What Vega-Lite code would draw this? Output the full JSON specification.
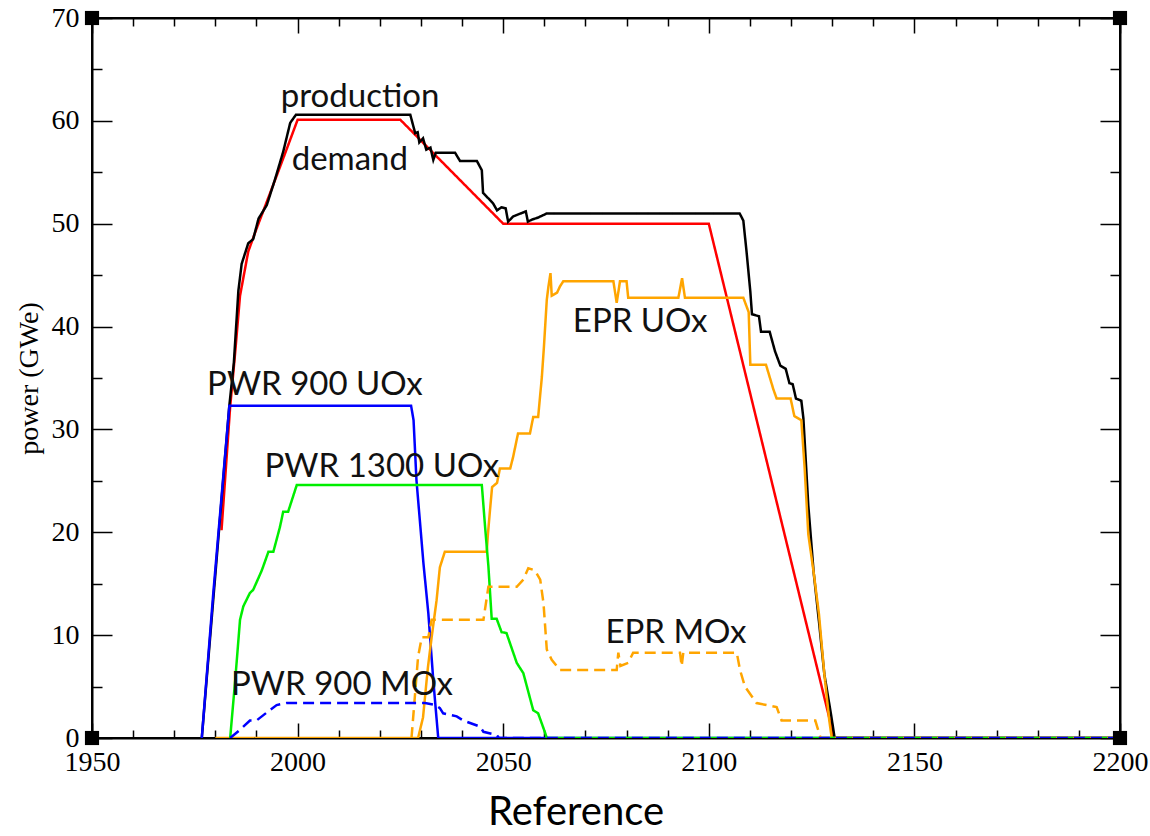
{
  "$schema": "https://vega.github.io/schema/vega-lite/v6.json",
  "autosize": {"type": "none"},
  "padding": {"left": 92, "top": 18, "right": 30, "bottom": 98},
  "width": 1028,
  "height": 720,
  "background": "white",
  "view": {"stroke": "black", "strokeWidth": 2},
  "title": {"text": "Reference", "orient": "bottom", "font": "Lato", "fontSize": 40, "fontWeight": "normal", "color": "black", "offset": 10, "dx": -30},
  "datasets": {
    "series": [
      {"series": "demand", "year": 1981.5, "value": 20.2},
      {"series": "demand", "year": 1983.6, "value": 32.2},
      {"series": "demand", "year": 1984.8, "value": 37.4},
      {"series": "demand", "year": 1986, "value": 43},
      {"series": "demand", "year": 1988, "value": 47.3},
      {"series": "demand", "year": 1990, "value": 49.5},
      {"series": "demand", "year": 1994, "value": 53.7},
      {"series": "demand", "year": 1997.3, "value": 57.2},
      {"series": "demand", "year": 2000, "value": 60.1},
      {"series": "demand", "year": 2025, "value": 60.1},
      {"series": "demand", "year": 2050, "value": 50},
      {"series": "demand", "year": 2100, "value": 50},
      {"series": "demand", "year": 2130.5, "value": 0},
      {"series": "demand", "year": 2200, "value": 0},

      {"series": "production", "year": 1976.7, "value": 0},
      {"series": "production", "year": 1983.4, "value": 32.3},
      {"series": "production", "year": 1984.5, "value": 36.5},
      {"series": "production", "year": 1985.6, "value": 43.5},
      {"series": "production", "year": 1986.4, "value": 46.1},
      {"series": "production", "year": 1988, "value": 48.1},
      {"series": "production", "year": 1989.2, "value": 48.5},
      {"series": "production", "year": 1990.5, "value": 50.5},
      {"series": "production", "year": 1992.5, "value": 51.8},
      {"series": "production", "year": 1994.5, "value": 54.3},
      {"series": "production", "year": 1996.5, "value": 57.0},
      {"series": "production", "year": 1998.2, "value": 59.8},
      {"series": "production", "year": 1999.6, "value": 60.6},
      {"series": "production", "year": 2027.4, "value": 60.6},
      {"series": "production", "year": 2028.6, "value": 58.8},
      {"series": "production", "year": 2029.2, "value": 58.9},
      {"series": "production", "year": 2029.6, "value": 57.9},
      {"series": "production", "year": 2030.5, "value": 58.3},
      {"series": "production", "year": 2031.3, "value": 57.2},
      {"series": "production", "year": 2032.3, "value": 57.4},
      {"series": "production", "year": 2033, "value": 56.2},
      {"series": "production", "year": 2033.6, "value": 56.9},
      {"series": "production", "year": 2038.3, "value": 56.9},
      {"series": "production", "year": 2039.5, "value": 56.1},
      {"series": "production", "year": 2043.6, "value": 56.1},
      {"series": "production", "year": 2044.8, "value": 55.2},
      {"series": "production", "year": 2045.1, "value": 53.0},
      {"series": "production", "year": 2046.3, "value": 52.5},
      {"series": "production", "year": 2047.5, "value": 52.0},
      {"series": "production", "year": 2048.5, "value": 51.3},
      {"series": "production", "year": 2049.6, "value": 51.6},
      {"series": "production", "year": 2050.6, "value": 51.5},
      {"series": "production", "year": 2051.2, "value": 50.2},
      {"series": "production", "year": 2052.4, "value": 50.7},
      {"series": "production", "year": 2055.5, "value": 51.2},
      {"series": "production", "year": 2056, "value": 50.2},
      {"series": "production", "year": 2057, "value": 50.4},
      {"series": "production", "year": 2058.5, "value": 50.6},
      {"series": "production", "year": 2060.6, "value": 51.0},
      {"series": "production", "year": 2107.5, "value": 51.0},
      {"series": "production", "year": 2108.4, "value": 50.3},
      {"series": "production", "year": 2109.2, "value": 47.2},
      {"series": "production", "year": 2110.1, "value": 43.4},
      {"series": "production", "year": 2110.5, "value": 41.2},
      {"series": "production", "year": 2112.2, "value": 41.0},
      {"series": "production", "year": 2112.7, "value": 39.5},
      {"series": "production", "year": 2114.8, "value": 39.5},
      {"series": "production", "year": 2116.1, "value": 37.6},
      {"series": "production", "year": 2117.4, "value": 36.2},
      {"series": "production", "year": 2118.7, "value": 35.9},
      {"series": "production", "year": 2119.6, "value": 34.5},
      {"series": "production", "year": 2120.4, "value": 34.4},
      {"series": "production", "year": 2121.2, "value": 33.0},
      {"series": "production", "year": 2122.5, "value": 32.8},
      {"series": "production", "year": 2123, "value": 31.1},
      {"series": "production", "year": 2124.2, "value": 22.6},
      {"series": "production", "year": 2125.5, "value": 16.1},
      {"series": "production", "year": 2126.8, "value": 11.3},
      {"series": "production", "year": 2128.1, "value": 6.2},
      {"series": "production", "year": 2129.8, "value": 2.1},
      {"series": "production", "year": 2130.6, "value": 0},
      {"series": "production", "year": 2200, "value": 0},

      {"series": "PWR 900 UOx", "year": 1976.7, "value": 0},
      {"series": "PWR 900 UOx", "year": 1979.5, "value": 14.1},
      {"series": "PWR 900 UOx", "year": 1983.4, "value": 32.3},
      {"series": "PWR 900 UOx", "year": 2027.6, "value": 32.3},
      {"series": "PWR 900 UOx", "year": 2028.2, "value": 30.9},
      {"series": "PWR 900 UOx", "year": 2028.9, "value": 25.1},
      {"series": "PWR 900 UOx", "year": 2030.6, "value": 17.0},
      {"series": "PWR 900 UOx", "year": 2031.8, "value": 12.1},
      {"series": "PWR 900 UOx", "year": 2033, "value": 5.6},
      {"series": "PWR 900 UOx", "year": 2034.2, "value": 0},
      {"series": "PWR 900 UOx", "year": 2200, "value": 0},

      {"series": "EPR UOx", "year": 1980, "value": 0},
      {"series": "EPR UOx", "year": 2029.3, "value": 0},
      {"series": "EPR UOx", "year": 2030.5, "value": 2.0},
      {"series": "EPR UOx", "year": 2031.7, "value": 6.9},
      {"series": "EPR UOx", "year": 2032.6, "value": 9.8},
      {"series": "EPR UOx", "year": 2033.8, "value": 13.4},
      {"series": "EPR UOx", "year": 2034.6, "value": 16.6},
      {"series": "EPR UOx", "year": 2035.8, "value": 18.1},
      {"series": "EPR UOx", "year": 2046, "value": 18.1},
      {"series": "EPR UOx", "year": 2046.3, "value": 19.9},
      {"series": "EPR UOx", "year": 2046.8, "value": 22.2},
      {"series": "EPR UOx", "year": 2047.3, "value": 24.4},
      {"series": "EPR UOx", "year": 2048.5, "value": 24.8},
      {"series": "EPR UOx", "year": 2049.2, "value": 26.2},
      {"series": "EPR UOx", "year": 2051.7, "value": 26.2},
      {"series": "EPR UOx", "year": 2052.4, "value": 27.3},
      {"series": "EPR UOx", "year": 2053.6, "value": 29.6},
      {"series": "EPR UOx", "year": 2056.5, "value": 29.6},
      {"series": "EPR UOx", "year": 2057.3, "value": 31.2},
      {"series": "EPR UOx", "year": 2058.5, "value": 31.2},
      {"series": "EPR UOx", "year": 2058.8, "value": 32.5},
      {"series": "EPR UOx", "year": 2059.4, "value": 35.1},
      {"series": "EPR UOx", "year": 2059.9, "value": 38.0},
      {"series": "EPR UOx", "year": 2060.6, "value": 42.6},
      {"series": "EPR UOx", "year": 2061, "value": 43.9},
      {"series": "EPR UOx", "year": 2061.5, "value": 45.2},
      {"series": "EPR UOx", "year": 2061.8, "value": 43.0},
      {"series": "EPR UOx", "year": 2063.1, "value": 43.3},
      {"series": "EPR UOx", "year": 2063.8, "value": 43.9},
      {"series": "EPR UOx", "year": 2064.6, "value": 44.4},
      {"series": "EPR UOx", "year": 2076.8, "value": 44.4},
      {"series": "EPR UOx", "year": 2077.6, "value": 42.3},
      {"series": "EPR UOx", "year": 2078.4, "value": 44.4},
      {"series": "EPR UOx", "year": 2080, "value": 44.4},
      {"series": "EPR UOx", "year": 2080.4, "value": 42.8},
      {"series": "EPR UOx", "year": 2092.6, "value": 42.8},
      {"series": "EPR UOx", "year": 2093.5, "value": 44.7},
      {"series": "EPR UOx", "year": 2094.2, "value": 42.8},
      {"series": "EPR UOx", "year": 2108.4, "value": 42.8},
      {"series": "EPR UOx", "year": 2109.7, "value": 41.4},
      {"series": "EPR UOx", "year": 2110.1, "value": 36.3},
      {"series": "EPR UOx", "year": 2113.9, "value": 36.3},
      {"series": "EPR UOx", "year": 2115.7, "value": 33.9},
      {"series": "EPR UOx", "year": 2116.5, "value": 33.0},
      {"series": "EPR UOx", "year": 2119.9, "value": 33.0},
      {"series": "EPR UOx", "year": 2120.8, "value": 31.3},
      {"series": "EPR UOx", "year": 2122.5, "value": 30.9},
      {"series": "EPR UOx", "year": 2123.3, "value": 26.3},
      {"series": "EPR UOx", "year": 2124.2, "value": 19.8},
      {"series": "EPR UOx", "year": 2125.5, "value": 16.1},
      {"series": "EPR UOx", "year": 2126.8, "value": 12.0},
      {"series": "EPR UOx", "year": 2128.1, "value": 6.2},
      {"series": "EPR UOx", "year": 2129.3, "value": 1.7},
      {"series": "EPR UOx", "year": 2129.9, "value": 0},
      {"series": "EPR UOx", "year": 2200, "value": 0},

      {"series": "PWR 1300 UOx", "year": 1983.6, "value": 0},
      {"series": "PWR 1300 UOx", "year": 1984.8, "value": 5.5},
      {"series": "PWR 1300 UOx", "year": 1986, "value": 11.5},
      {"series": "PWR 1300 UOx", "year": 1986.8, "value": 12.8},
      {"series": "PWR 1300 UOx", "year": 1988.4, "value": 14.1},
      {"series": "PWR 1300 UOx", "year": 1989.2, "value": 14.4},
      {"series": "PWR 1300 UOx", "year": 1991.3, "value": 16.3},
      {"series": "PWR 1300 UOx", "year": 1992.9, "value": 18.1},
      {"series": "PWR 1300 UOx", "year": 1994.1, "value": 18.1},
      {"series": "PWR 1300 UOx", "year": 1995.7, "value": 20.5},
      {"series": "PWR 1300 UOx", "year": 1996.5, "value": 22.0},
      {"series": "PWR 1300 UOx", "year": 1997.7, "value": 22.0},
      {"series": "PWR 1300 UOx", "year": 1999.8, "value": 24.6},
      {"series": "PWR 1300 UOx", "year": 2044.8, "value": 24.6},
      {"series": "PWR 1300 UOx", "year": 2045.6, "value": 20.5},
      {"series": "PWR 1300 UOx", "year": 2046.4, "value": 16.7},
      {"series": "PWR 1300 UOx", "year": 2047.2, "value": 11.6},
      {"series": "PWR 1300 UOx", "year": 2048.4, "value": 11.6},
      {"series": "PWR 1300 UOx", "year": 2049.6, "value": 10.3},
      {"series": "PWR 1300 UOx", "year": 2050.8, "value": 10.2},
      {"series": "PWR 1300 UOx", "year": 2053.3, "value": 7.3},
      {"series": "PWR 1300 UOx", "year": 2054.9, "value": 6.3},
      {"series": "PWR 1300 UOx", "year": 2057.3, "value": 2.7},
      {"series": "PWR 1300 UOx", "year": 2058.5, "value": 2.4},
      {"series": "PWR 1300 UOx", "year": 2060.2, "value": 0.5},
      {"series": "PWR 1300 UOx", "year": 2060.6, "value": 0},
      {"series": "PWR 1300 UOx", "year": 2200, "value": 0},

      {"series": "EPR MOx", "year": 2027.7, "value": 0},
      {"series": "EPR MOx", "year": 2029.3, "value": 7.9},
      {"series": "EPR MOx", "year": 2030.2, "value": 9.8},
      {"series": "EPR MOx", "year": 2031.8, "value": 9.8},
      {"series": "EPR MOx", "year": 2032.6, "value": 11.5},
      {"series": "EPR MOx", "year": 2045.2, "value": 11.5},
      {"series": "EPR MOx", "year": 2046.4, "value": 14.7},
      {"series": "EPR MOx", "year": 2053.3, "value": 14.7},
      {"series": "EPR MOx", "year": 2054.9, "value": 15.4},
      {"series": "EPR MOx", "year": 2056.1, "value": 16.5},
      {"series": "EPR MOx", "year": 2057.7, "value": 16.3},
      {"series": "EPR MOx", "year": 2059, "value": 15.4},
      {"series": "EPR MOx", "year": 2059.8, "value": 13.1},
      {"series": "EPR MOx", "year": 2060.6, "value": 8.6},
      {"series": "EPR MOx", "year": 2061.8, "value": 7.6},
      {"series": "EPR MOx", "year": 2063.8, "value": 6.6},
      {"series": "EPR MOx", "year": 2077.6, "value": 6.6},
      {"series": "EPR MOx", "year": 2078, "value": 8.3},
      {"series": "EPR MOx", "year": 2078.5, "value": 7.0},
      {"series": "EPR MOx", "year": 2080.4, "value": 7.3},
      {"series": "EPR MOx", "year": 2081.6, "value": 8.3},
      {"series": "EPR MOx", "year": 2093, "value": 8.3},
      {"series": "EPR MOx", "year": 2093.4, "value": 7.0},
      {"series": "EPR MOx", "year": 2093.8, "value": 8.3},
      {"series": "EPR MOx", "year": 2106.8, "value": 8.3},
      {"series": "EPR MOx", "year": 2107.6, "value": 6.6},
      {"series": "EPR MOx", "year": 2108.8, "value": 5.0},
      {"series": "EPR MOx", "year": 2111.6, "value": 3.4},
      {"series": "EPR MOx", "year": 2116.5, "value": 3.0},
      {"series": "EPR MOx", "year": 2117.7, "value": 1.7},
      {"series": "EPR MOx", "year": 2125.9, "value": 1.7},
      {"series": "EPR MOx", "year": 2127.2, "value": 0},
      {"series": "EPR MOx", "year": 2200, "value": 0},

      {"series": "PWR 900 MOx", "year": 1983.6, "value": 0},
      {"series": "PWR 900 MOx", "year": 1986, "value": 0.8},
      {"series": "PWR 900 MOx", "year": 1988.4, "value": 1.7},
      {"series": "PWR 900 MOx", "year": 1990, "value": 1.7},
      {"series": "PWR 900 MOx", "year": 1992.9, "value": 2.6},
      {"series": "PWR 900 MOx", "year": 1994.9, "value": 3.2},
      {"series": "PWR 900 MOx", "year": 1997.3, "value": 3.4},
      {"series": "PWR 900 MOx", "year": 2031, "value": 3.4},
      {"series": "PWR 900 MOx", "year": 2033.5, "value": 3.2},
      {"series": "PWR 900 MOx", "year": 2034.6, "value": 2.9},
      {"series": "PWR 900 MOx", "year": 2035.4, "value": 2.4},
      {"series": "PWR 900 MOx", "year": 2038.7, "value": 2.1},
      {"series": "PWR 900 MOx", "year": 2040.3, "value": 1.7},
      {"series": "PWR 900 MOx", "year": 2044.4, "value": 1.1},
      {"series": "PWR 900 MOx", "year": 2045.2, "value": 0.6},
      {"series": "PWR 900 MOx", "year": 2048.4, "value": 0.3},
      {"series": "PWR 900 MOx", "year": 2049, "value": 0},
      {"series": "PWR 900 MOx", "year": 2200, "value": 0}
    ],
    "labels": [
      {"label": "production", "year": 2015.2, "value": 62.3},
      {"label": "demand", "year": 2012.7, "value": 56.2},
      {"label": "PWR 900 UOx", "year": 2004.2, "value": 34.3},
      {"label": "PWR 1300 UOx", "year": 2020.5, "value": 26.3},
      {"label": "PWR 900 MOx", "year": 2010.8, "value": 5.2},
      {"label": "EPR UOx", "year": 2083.3, "value": 40.4},
      {"label": "EPR MOx", "year": 2092, "value": 10.2}
    ],
    "corners": [
      {"year": 1950, "value": 0},
      {"year": 1950, "value": 70},
      {"year": 2200, "value": 0},
      {"year": 2200, "value": 70}
    ]
  },
  "layer": [
    {
      "data": {"name": "series"},
      "mark": {"type": "line", "strokeWidth": 2.5, "clip": true},
      "encoding": {
        "x": {
          "field": "year", "type": "quantitative",
          "scale": {"domain": [1950, 2200], "nice": false, "zero": false},
          "axis": {
            "orient": "bottom", "title": null, "grid": false, "format": "d",
            "values": [1950,1960,1970,1980,1990,2000,2010,2020,2030,2040,2050,2060,2070,2080,2090,2100,2110,2120,2130,2140,2150,2160,2170,2180,2190,2200],
            "labelExpr": "datum.value % 50 === 0 ? datum.label : ''",
            "tickSize": {"condition": {"test": "datum.value % 50 === 0", "value": -15}, "value": -8},
            "tickColor": "black", "tickWidth": 1.5,
            "domainColor": "black", "domainWidth": 2,
            "labelFont": "Liberation Serif", "labelFontSize": 28, "labelColor": "black",
            "labelPadding": 25, "labelFlush": false, "labelOverlap": false
          }
        },
        "y": {
          "field": "value", "type": "quantitative",
          "scale": {"domain": [0, 70], "nice": false},
          "axis": {
            "orient": "left", "title": "power (GWe)", "grid": false, "format": "d",
            "values": [0,5,10,15,20,25,30,35,40,45,50,55,60,65,70],
            "labelExpr": "datum.value % 10 === 0 ? datum.label : ''",
            "tickSize": {"condition": {"test": "datum.value % 10 === 0", "value": -20}, "value": -10},
            "tickColor": "black", "tickWidth": 1.5,
            "domainColor": "black", "domainWidth": 2,
            "labelFont": "Liberation Serif", "labelFontSize": 28, "labelColor": "black",
            "labelPadding": 33, "labelFlush": false, "labelOverlap": false,
            "titleFont": "Liberation Serif", "titleFontSize": 28, "titleFontWeight": "normal", "titleColor": "black",
            "titlePadding": 8
          }
        },
        "color": {
          "field": "series", "type": "nominal", "legend": null,
          "scale": {
            "domain": ["demand", "production", "PWR 900 UOx", "EPR UOx", "PWR 1300 UOx", "EPR MOx", "PWR 900 MOx"],
            "range": ["#ff0000", "#000000", "#0000ff", "#ffa500", "#00ee00", "#ffa500", "#0000ff"]
          }
        },
        "strokeDash": {
          "field": "series", "type": "nominal", "legend": null,
          "scale": {
            "domain": ["demand", "production", "PWR 900 UOx", "EPR UOx", "PWR 1300 UOx", "EPR MOx", "PWR 900 MOx"],
            "range": [[1, 0], [1, 0], [1, 0], [1, 0], [1, 0], [11, 6], [11, 6]]
          }
        }
      }
    },
    {
      "data": {"name": "corners"},
      "mark": {"type": "point", "shape": "square", "size": 200, "filled": true, "color": "black", "opacity": 1},
      "encoding": {
        "x": {
          "field": "year", "type": "quantitative",
          "axis": {
            "orient": "top", "title": null, "grid": false, "labels": false,
            "values": [1950,1960,1970,1980,1990,2000,2010,2020,2030,2040,2050,2060,2070,2080,2090,2100,2110,2120,2130,2140,2150,2160,2170,2180,2190,2200],
            "tickSize": {"condition": {"test": "datum.value % 50 === 0", "value": -15}, "value": -8},
            "tickColor": "black", "tickWidth": 1.5,
            "domainColor": "black", "domainWidth": 2
          }
        },
        "y": {
          "field": "value", "type": "quantitative",
          "axis": {
            "orient": "right", "title": null, "grid": false, "labels": false,
            "values": [0,5,10,15,20,25,30,35,40,45,50,55,60,65,70],
            "tickSize": {"condition": {"test": "datum.value % 10 === 0", "value": -20}, "value": -10},
            "tickColor": "black", "tickWidth": 1.5,
            "domainColor": "black", "domainWidth": 2
          }
        }
      }
    },
    {
      "data": {"name": "labels"},
      "mark": {"type": "text", "font": "Lato", "fontSize": 33, "color": "#111111", "align": "center", "baseline": "middle"},
      "encoding": {
        "x": {"field": "year", "type": "quantitative", "axis": null},
        "y": {"field": "value", "type": "quantitative", "axis": null},
        "text": {"field": "label"}
      }
    }
  ],
  "resolve": {"axis": {"x": "independent", "y": "independent"}}
}
